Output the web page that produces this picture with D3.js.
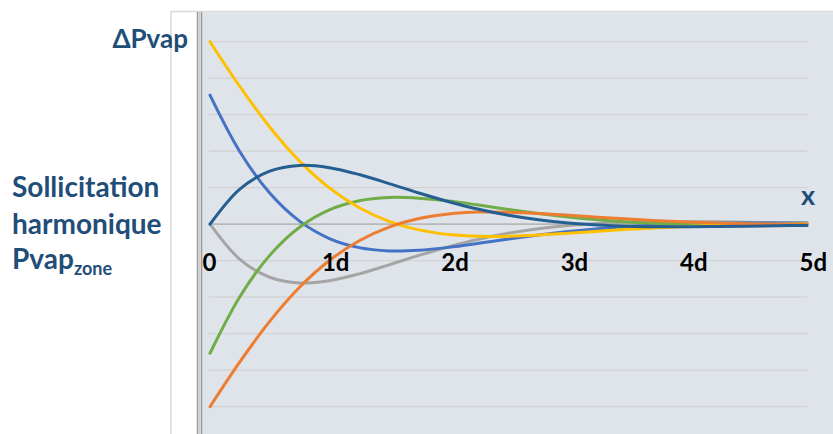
<!DOCTYPE html>
<html><head><meta charset="utf-8">
<script src="https://cdn.jsdelivr.net/npm/d3@7"></script>
<style>body{margin:0;background:#fff}svg{display:block}</style>
</head><body>
<svg id="c" width="833" height="434"></svg>
<script>
const xValues = [0,0.25,0.5,0.75,1,1.25,1.5,1.75,2,2.25,2.5,2.75,3,3.25,3.5,3.75,4,4.25,4.5,4.75,5];
const yellowSeries = [5.00,3.773,2.662,1.728,0.994,0.452,0.079,-0.155,-0.282,-0.331,-0.328,-0.296,-0.247,-0.193,-0.141,-0.097,-0.060,-0.032,-0.012,0.002,0.010];
const orangeSeries = [-5.00,-3.773,-2.662,-1.728,-0.994,-0.452,-0.079,0.155,0.282,0.331,0.328,0.296,0.247,0.193,0.141,0.097,0.060,0.032,0.012,-0.002,-0.010];
const darkBlueSeries = [0,0.963,1.454,1.610,1.548,1.360,1.113,0.855,0.616,0.410,0.245,0.122,0.035,-0.021,-0.053,-0.067,-0.070,-0.064,-0.055,-0.043,-0.033];
const graySeries = [0,-0.963,-1.454,-1.610,-1.548,-1.360,-1.113,-0.855,-0.616,-0.410,-0.245,-0.122,-0.035,0.021,0.053,0.067,0.070,0.064,0.055,0.043,0.033];
const blueSeries = [3.536,1.987,0.854,0.083,-0.392,-0.642,-0.731,-0.714,-0.635,-0.524,-0.405,-0.296,-0.199,-0.122,-0.062,-0.021,0.007,0.023,0.030,0.032,0.030];
const greenSeries = [-3.536,-1.987,-0.854,-0.083,0.392,0.642,0.731,0.714,0.635,0.524,0.405,0.296,0.199,0.122,0.062,0.021,-0.007,-0.023,-0.030,-0.032,-0.030];
const tickValues = [0,1,2,3,4,5];
const tickLabels = ["0","1d","2d","3d","4d","5d"];
const gridValues = [-5,-4,-3,-2,-1,1,2,3,4,5];

const series = [
  {v: graySeries, c: "#A5A5A5"},
  {v: blueSeries, c: "#4472C4"},
  {v: greenSeries, c: "#70AD47"},
  {v: yellowSeries, c: "#FFC000"},
  {v: orangeSeries, c: "#ED7D31"},
  {v: darkBlueSeries, c: "#255E91"}
];

const svg = d3.select("#c");
const x = d3.scaleLinear().domain([0,5]).range([210,807]);
const y = d3.scaleLinear().domain([-5,5]).range([406.7,41.7]);

// outer frame & white strip
svg.append("rect").attr("x",171).attr("y",11.5).attr("width",700).attr("height",500)
  .attr("fill","#fff").attr("stroke","#D9D9D9").attr("stroke-width",1.5);
svg.append("rect").attr("x",202).attr("y",12.3).attr("width",640).attr("height",430).attr("fill","#DFE3EA");
svg.append("line").attr("x1",197.5).attr("x2",197.5).attr("y1",12).attr("y2",434).attr("stroke","#9A9A9A").attr("stroke-width",1.5);
svg.append("line").attr("x1",201.5).attr("x2",201.5).attr("y1",12).attr("y2",434).attr("stroke","#9A9A9A").attr("stroke-width",1.5);
svg.append("rect").attr("x",198.3).attr("y",12).attr("width",2.4).attr("height",422).attr("fill","#D0D0D0");

// gridlines
svg.append("g").selectAll("line").data(gridValues).join("line")
  .attr("x1",x(0)-1).attr("x2",x(5)).attr("y1",d=>y(d)).attr("y2",d=>y(d))
  .attr("stroke","#D2D2D2").attr("stroke-width",1.3);
// zero axis
svg.append("line").attr("x1",x(0)).attr("x2",x(5)).attr("y1",y(0)).attr("y2",y(0))
  .attr("stroke","#B8B8B8").attr("stroke-width",1.8);

// lines
const line = d3.line().x((d,i)=>x(xValues[i])).y(d=>y(d)).curve(d3.curveCatmullRom.alpha(0.5));
svg.append("g").selectAll("path").data(series).join("path")
  .attr("d",d=>line(d.v)).attr("fill","none").attr("stroke",d=>d.c)
  .attr("stroke-width",3).attr("stroke-linecap","round");

// x tick labels
const ax = svg.append("g").attr("transform","translate(0,253)")
  .call(d3.axisBottom(x).tickValues(tickValues).tickFormat((d,i)=>tickLabels[i]).tickSize(0).tickPadding(0));
ax.select(".domain").remove();
ax.selectAll("text").attr("text-anchor","start").attr("dx",-8).attr("dy",0).attr("y",18)
  .attr("font-family","Lato, 'Open Sans', sans-serif").attr("font-weight","bold")
  .attr("font-size",24).attr("fill","#000");

// titles
const tf = "Lato, 'Open Sans', sans-serif";
const tc = "#1F4E79";
svg.append("text").attr("x",188).attr("y",48).attr("text-anchor","end")
  .attr("font-family",tf).attr("font-weight","bold").attr("font-size",26).attr("fill",tc).text("ΔPvap");
svg.append("text").attr("x",12).attr("y",197)
  .attr("font-family",tf).attr("font-weight","bold").attr("font-size",28).attr("fill",tc).text("Sollicitation");
svg.append("text").attr("x",12).attr("y",234)
  .attr("font-family",tf).attr("font-weight","bold").attr("font-size",28).attr("fill",tc).text("harmonique");
const p = svg.append("text").attr("x",12).attr("y",269)
  .attr("font-family",tf).attr("font-weight","bold").attr("font-size",28).attr("fill",tc);
p.append("tspan").text("Pvap");
p.append("tspan").attr("font-size",18).attr("dy",6).text("zone");
svg.append("text").attr("x",808).attr("y",205).attr("text-anchor","middle")
  .attr("font-family",tf).attr("font-weight","bold").attr("font-size",27).attr("fill",tc).text("x");
</script>
</body></html>
